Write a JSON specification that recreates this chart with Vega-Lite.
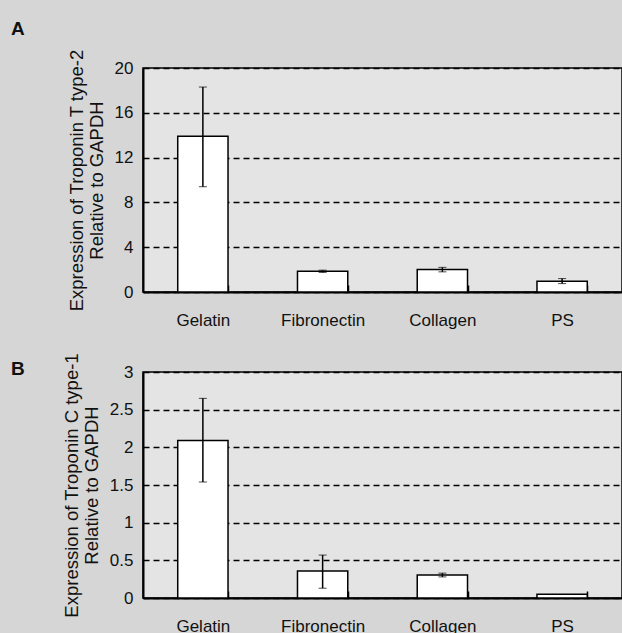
{
  "$schema": "https://vega.github.io/schema/vega-lite/v6.json",
  "background": "#d6d6d6",
  "padding": {"left": 10, "top": 18, "right": 0, "bottom": 0},
  "datasets": {
    "a": [
      {"substrate": "Gelatin", "mean": 13.9, "lo": 9.4, "hi": 18.3},
      {"substrate": "Fibronectin", "mean": 1.85, "lo": 1.75, "hi": 1.95},
      {"substrate": "Collagen", "mean": 2.0, "lo": 1.8, "hi": 2.2},
      {"substrate": "PS", "mean": 0.95, "lo": 0.75, "hi": 1.2}
    ],
    "b": [
      {"substrate": "Gelatin", "mean": 2.09, "lo": 1.54, "hi": 2.65},
      {"substrate": "Fibronectin", "mean": 0.36, "lo": 0.13, "hi": 0.57},
      {"substrate": "Collagen", "mean": 0.305, "lo": 0.28, "hi": 0.33},
      {"substrate": "PS", "mean": 0.05, "lo": null, "hi": null}
    ]
  },
  "config": {
    "font": "Liberation Sans",
    "view": {"fill": "#e4e4e4", "stroke": "#000", "strokeWidth": 1.5},
    "axis": {"labelFont": "Liberation Sans", "labelFontSize": 17, "labelColor": "#111", "titleFont": "Liberation Sans", "titleFontSize": 18.5, "titleFontWeight": "normal", "titleColor": "#111", "domainColor": "#000", "domainWidth": 2},
    "title": {"font": "Liberation Sans", "fontSize": 19, "fontWeight": "bold", "anchor": "start", "frame": "group", "color": "#111"}
  },
  "spacing": 22,
  "vconcat": [
    {
      "data": {"name": "a"},
      "width": 479,
      "height": 224,
      "title": {"text": "A", "dx": -132, "offset": 10},
      "resolve": {"axis": {"y": "independent"}},
      "encoding": {
        "x": {"field": "substrate", "type": "nominal", "sort": null, "scale": {"paddingInner": 0.58, "paddingOuter": 0.29},
          "axis": {"title": null, "labelAngle": 0, "tickBand": "extent", "tickSize": -7, "tickColor": "#000", "tickWidth": 1.5, "labelPadding": 27}}
      },
      "layer": [
        {
          "mark": {"type": "bar", "fill": "#ffffff", "stroke": "#000", "strokeWidth": 1.5},
          "encoding": {
            "y": {"field": "mean", "type": "quantitative", "scale": {"domain": [0, 20]},
              "axis": {"title": ["Expression of Troponin T type-2", "Relative to GAPDH"], "values": [0, 4, 8, 12, 16, 20], "ticks": false, "labelPadding": 10, "titlePadding": 8, "titleLineHeight": 20,
                "grid": true, "gridColor": "#000", "gridDash": [6, 4], "gridWidth": 1.5, "gridOpacity": 1}}
          }
        },
        {
          "mark": {"type": "errorbar", "ticks": {"size": 8, "color": "#000", "strokeWidth": 1.5}, "rule": {"color": "#000", "strokeWidth": 1.5}},
          "encoding": {
            "y": {"field": "lo", "type": "quantitative", "axis": null},
            "y2": {"field": "hi"}
          }
        }
      ]
    },
    {
      "data": {"name": "b"},
      "width": 479,
      "height": 226,
      "title": {"text": "B", "dx": -132, "offset": -26},
      "resolve": {"axis": {"y": "independent"}},
      "encoding": {
        "x": {"field": "substrate", "type": "nominal", "sort": null, "scale": {"paddingInner": 0.58, "paddingOuter": 0.29},
          "axis": {"title": null, "labelAngle": 0, "tickBand": "extent", "tickSize": -7, "tickColor": "#000", "tickWidth": 1.5, "labelPadding": 27}}
      },
      "layer": [
        {
          "mark": {"type": "bar", "fill": "#ffffff", "stroke": "#000", "strokeWidth": 1.5},
          "encoding": {
            "y": {"field": "mean", "type": "quantitative", "scale": {"domain": [0, 3]},
              "axis": {"title": ["Expression of Troponin C type-1", "Relative to GAPDH"], "values": [0, 0.5, 1, 1.5, 2, 2.5, 3], "format": "~g", "ticks": false, "labelPadding": 10, "titlePadding": 8, "titleLineHeight": 20,
                "grid": true, "gridColor": "#000", "gridDash": [6, 4], "gridWidth": 1.5, "gridOpacity": 1}}
          }
        },
        {
          "mark": {"type": "errorbar", "ticks": {"size": 8, "color": "#000", "strokeWidth": 1.5}, "rule": {"color": "#000", "strokeWidth": 1.5}},
          "encoding": {
            "y": {"field": "lo", "type": "quantitative", "axis": null},
            "y2": {"field": "hi"}
          }
        }
      ]
    }
  ]
}
